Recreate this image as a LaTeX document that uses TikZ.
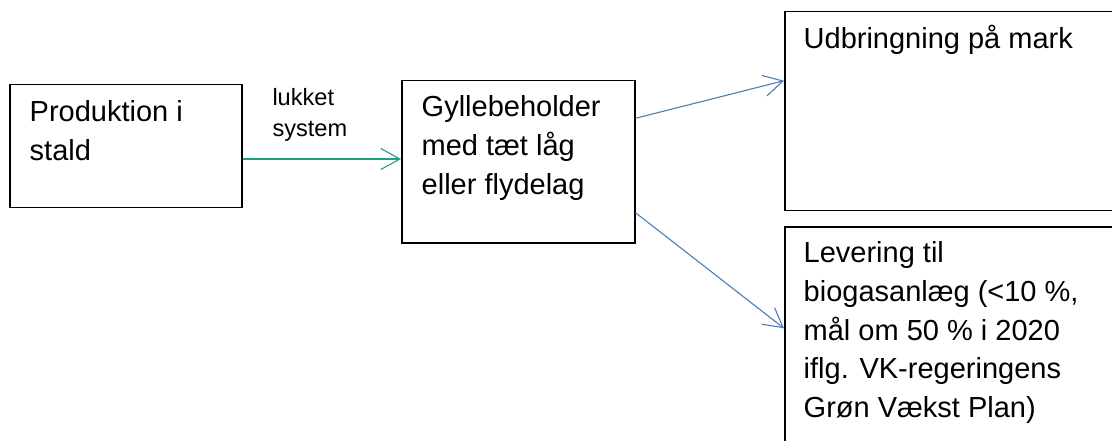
\documentclass[tikz,border=0pt]{standalone}
\usepackage{fontspec}
\setmainfont{Liberation Sans}
\usetikzlibrary{arrows.meta}
\definecolor{arrblue}{RGB}{74,126,187}
\definecolor{arrgreen}{RGB}{30,162,130}
\tikzset{
  box/.style={draw=black, line width=1.5pt, rectangle, inner sep=0pt, anchor=north west},
  bigtext/.style={inner sep=0pt, anchor=base west, align=left, font=\fontsize{29pt}{38.7pt}\selectfont},
  smalltext/.style={inner sep=0pt, anchor=base west, align=left, font=\fontsize{23.6pt}{30.7pt}\selectfont},
  conn/.style={line width=1.1pt, -{Straight Barb[length=19pt, width=21pt, line width=1.1pt]}},
}
\begin{document}
\begin{tikzpicture}[x=1pt, y=-1pt]
\useasboundingbox (0,0) rectangle (1112,441);
\clip (0,0) rectangle (1112,441);
\fill[white] (0,0) rectangle (1112,441);
% boxes
\node[box, minimum width=232pt, minimum height=123pt] (A) at (9,84) {};
\node[box, minimum width=233pt, minimum height=162pt] (B) at (401,80) {};
\node[box, minimum width=360pt, minimum height=199pt] (C) at (784,11) {};
\node[box, minimum width=360pt, minimum height=260pt] (D) at (784,226) {};
% texts (base anchor = baseline of the last line)
\node[bigtext] (tA) at (29.5,160.4) {Produktion i\\stald};
\node[bigtext] (tB) at (421.5,194.1) {Gyllebeholder\\med tæt låg\\eller flydelag};
\node[bigtext] (tC) at (803.5,48.5) {Udbringning på mark};
\node[bigtext] (tD) at (803.5,417.5) {Levering til\\biogasanlæg (<10 \%,\\mål om 50 \% i 2020\\iflg. VK-regeringens\\Grøn Vækst Plan)};
\node[smalltext] (lab) at (272.3,136.7) {lukket\\system};
% connector anchor points
\coordinate (a1) at (A.east |- 0,159);
\coordinate (b0) at (B.west |- 0,159);
\coordinate (b1) at (B.east |- 0,118.3);
\coordinate (b2) at (B.east |- 0,212.7);
\coordinate (c1) at (C.west |- 0,80.7);
\coordinate (d1) at (D.west |- 0,328.3);
% connectors
\draw[conn, draw=arrgreen] (a1) -- (b0);
\draw[draw=arrgreen, line width=2pt] (a1) -- ++(11,0);
\draw[conn, draw=arrblue] (b1) -- (c1);
\draw[conn, draw=arrblue] (b2) -- (d1);
\end{tikzpicture}
\end{document}
